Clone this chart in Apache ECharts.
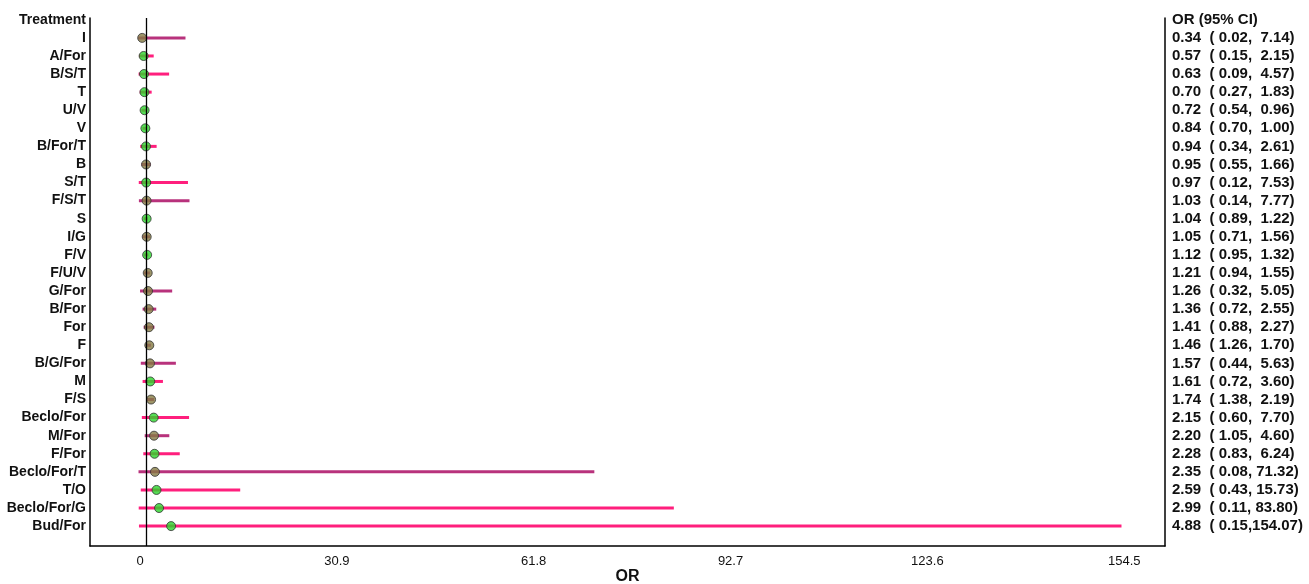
<!DOCTYPE html>
<html>
<head>
<meta charset="utf-8">
<script src="https://cdn.jsdelivr.net/npm/echarts@6/dist/echarts.min.js"></script>
<style>
html,body{margin:0;padding:0;background:#fff;}
#chart{width:1309px;height:584px;}
</style>
</head>
<body>
<div id="chart"></div>
<script>
const treatments = ['I','A/For','B/S/T','T','U/V','V','B/For/T','B','S/T','F/S/T','S','I/G','F/V','F/U/V','G/For','B/For','For','F','B/G/For','M','F/S','Beclo/For','M/For','F/For','Beclo/For/T','T/O','Beclo/For/G','Bud/For'];
const orValues = [0.34,0.57,0.63,0.70,0.72,0.84,0.94,0.95,0.97,1.03,1.04,1.05,1.12,1.21,1.26,1.36,1.41,1.46,1.57,1.61,1.74,2.15,2.20,2.28,2.35,2.59,2.99,4.88];
const ciLow = [0.02,0.15,0.09,0.27,0.54,0.70,0.34,0.55,0.12,0.14,0.89,0.71,0.95,0.94,0.32,0.72,0.88,1.26,0.44,0.72,1.38,0.60,1.05,0.83,0.08,0.43,0.11,0.15];
const ciHigh = [7.14,2.15,4.57,1.83,0.96,1.00,2.61,1.66,7.53,7.77,1.22,1.56,1.32,1.55,5.05,2.55,2.27,1.70,5.63,3.60,2.19,7.70,4.60,6.24,71.32,15.73,83.80,154.07];
// style group seen in the picture: 1 = darker magenta line / olive marker, 0 = pink line / green marker
const styleGroup = [1,0,0,0,0,0,0,1,0,1,0,1,0,1,1,1,1,1,1,0,1,0,1,0,1,0,0,0];
const xTicks = [0,30.9,61.8,92.7,123.6,154.5];

const FONT = "'Liberation Sans', Arial, sans-serif";
const lineColors = ['#ff1f7d','#b8327c'];
const markerColors = ['#2bd62b','#857a42'];

function pad(s, w){ while(s.length < w) s = ' ' + s; return s; }
function ciLabel(i){
  return orValues[i].toFixed(2) + '  ( ' + ciLow[i].toFixed(2) + ',' + pad(ciHigh[i].toFixed(2), 6) + ')';
}

const rowIdx = [-1].concat(treatments.map((_, i) => i));

const chart = echarts.init(document.getElementById('chart'), null, {renderer:'canvas'});
const option = {
  backgroundColor:'#fff',
  animation:false,
  grid:{left:90, right:144, top:18, bottom:38, containLabel:false, outerBoundsMode:'none'},
  xAxis:{
    type:'value', min:-7.85, max:160.9,
    axisLine:{show:true, onZero:false, lineStyle:{color:'#000', width:1.5}},
    axisTick:{show:false},
    splitLine:{show:false},
    axisLabel:{customValues:xTicks, formatter:v => v===0 ? '0' : v.toFixed(1), color:'#111', fontSize:13, fontFamily:FONT, margin:9},
    name:'OR', nameLocation:'middle', nameGap:31, nameMoveOverlap:false,
    nameTextStyle:{fontSize:16, fontWeight:'bold', color:'#111', fontFamily:FONT, verticalAlign:'middle'}
  },
  yAxis:[{
    type:'value', inverse:true, min:-1.1, max:28.1, position:'left',
    axisLine:{show:true, onZero:false, lineStyle:{color:'#000', width:1.5}},
    axisTick:{show:false}, splitLine:{show:false},
    axisLabel:{customValues:rowIdx, formatter:v => v < 0 ? 'Treatment' : treatments[Math.round(v)],
      color:'#111', fontSize:14, fontWeight:'bold', fontFamily:FONT, margin:4}
  },{
    type:'value', inverse:true, min:-1.1, max:28.1, position:'right',
    axisLine:{show:true, onZero:false, lineStyle:{color:'#000', width:1.5}},
    axisTick:{show:false}, splitLine:{show:false},
    axisLabel:{customValues:rowIdx, formatter:v => v < 0 ? 'OR (95% CI)' : ciLabel(Math.round(v)),
      color:'#111', fontSize:15, fontWeight:'bold', fontFamily:FONT, margin:7}
  }],
  series:[{
    type:'custom', z:2,
    data: treatments.map((_, i) => [ciLow[i], ciHigh[i], i, styleGroup[i]]),
    encode:{x:[0,1], y:2},
    renderItem:function(params, api){
      const p1 = api.coord([api.value(0), api.value(2)]);
      const p2 = api.coord([api.value(1), api.value(2)]);
      return {type:'line', shape:{x1:p1[0]-2, y1:p1[1], x2:p2[0], y2:p2[1]},
        style:{stroke:lineColors[api.value(3)], lineWidth:3}};
    },
    markLine:{silent:true, symbol:'none', animation:false,
      lineStyle:{color:'#000', width:1.3, type:'solid'}, label:{show:false},
      data:[{xAxis:1}]}
  },{
    type:'scatter', z:3, symbol:'circle', symbolSize:9,
    data: treatments.map((_, i) => ({value:[orValues[i], i],
      itemStyle:{color:markerColors[styleGroup[i]], borderColor:'#333', borderWidth:1}}))
  }]
};
chart.setOption(option);
</script>
</body>
</html>
